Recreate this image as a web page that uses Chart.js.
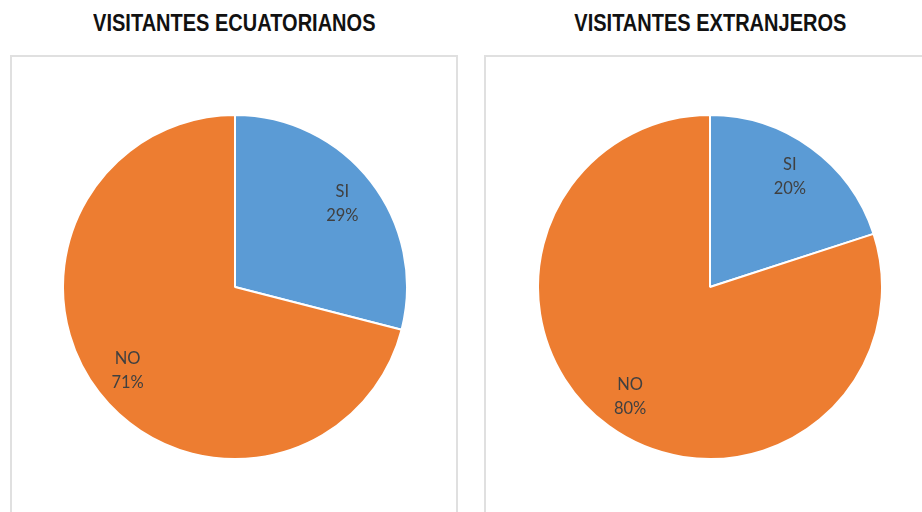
<!DOCTYPE html>
<html>
<head>
<meta charset="utf-8">
<script src="https://cdn.jsdelivr.net/npm/chart.js@4"></script>
<style>
    body { margin: 0; background: #fff; width: 922px; height: 512px; overflow: hidden; position: relative; }
    .title { position: absolute; top: 10px; text-align: center; font-family: "Liberation Sans", Arial, sans-serif; font-weight: bold; font-size: 23px; color: #111; }
    .title span { display: inline-block; transform: scaleX(0.87); }
    .box { position: absolute; top: 55px; height: 500px; border: 2px solid #e0e0e0; box-sizing: border-box; }
    canvas { position: absolute; }
</style>
</head>
<body>
<div class="title" style="left:10px;width:448px;"><span>VISITANTES ECUATORIANOS</span></div>
<div class="title" style="left:484px;width:452px;"><span>VISITANTES EXTRANJEROS</span></div>
<div class="box" style="left:10px;width:448px;"></div>
<div class="box" style="left:484px;width:452px;"></div>
<canvas id="pieEcuador" width="346" height="346" style="left:62px;top:114px;"></canvas>
<canvas id="pieForeign" width="346" height="346" style="left:537px;top:114px;"></canvas>

<script>
const categories = ["SI", "NO"];
const ecuadorValues = [29, 71];
const foreignValues = [20, 80];
const sliceColors = ["#5B9BD5", "#ED7D31"];

// draw "SI / 29%" labels inside each slice
const sliceLabels = {
    id: 'sliceLabels',
    afterDatasetsDraw(chart) {
        const ctx = chart.ctx;
        const values = chart.data.datasets[0].data;
        const total = values.reduce((a, b) => a + b, 0);
        chart.getDatasetMeta(0).data.forEach((arc, i) => {
            const p = arc.getProps(['x', 'y', 'startAngle', 'endAngle', 'outerRadius'], true);
            const mid = (p.startAngle + p.endAngle) / 2;
            const r = p.outerRadius * 0.79;
            const x = p.x + Math.cos(mid) * r;
            const y = p.y + Math.sin(mid) * r;
            ctx.save();
            ctx.fillStyle = "#404040";
            ctx.font = "16.5px Lato, 'Open Sans', sans-serif";
            ctx.textAlign = "center";
            ctx.textBaseline = "middle";
            ctx.fillText(chart.data.labels[i], x, y - 12);
            ctx.fillText(Math.round(values[i] / total * 100) + "%", x, y + 12);
            ctx.restore();
        });
    }
};

function makePie(id, values) {
    const ctx = document.getElementById(id).getContext("2d");
    return new Chart(ctx, {
        type: "pie",
        data: {
            labels: categories,
            datasets: [{
                data: values,
                backgroundColor: sliceColors,
                borderColor: "#ffffff",
                borderWidth: 2
            }]
        },
        options: {
            responsive: false,
            animation: false,
            layout: { padding: 0 },
            plugins: { legend: { display: false }, tooltip: { enabled: false } }
        },
        plugins: [sliceLabels]
    });
}

makePie("pieEcuador", ecuadorValues);
makePie("pieForeign", foreignValues);
</script>
</body>
</html>
